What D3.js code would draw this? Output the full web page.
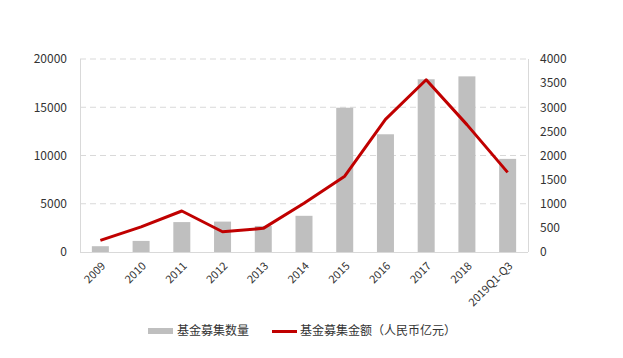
<!DOCTYPE html>
<html><head><meta charset="utf-8">
<script src="https://cdn.jsdelivr.net/npm/d3@7"></script>
<style>body{margin:0;background:#fff;}svg{display:block;}</style>
</head><body><svg id="c" width="623" height="358"></svg>
<script>
const categories = ["2009","2010","2011","2012","2013","2014","2015","2016","2017","2018","2019Q1-Q3"];
const fundCount = [600,1150,3100,3150,2700,3750,14950,12200,17900,18200,9650];
const fundAmount = [240,520,850,420,490,1010,1570,2750,3570,2640,1650];
const leftTicks = [0,5000,10000,15000,20000];
const rightTicks = [0,500,1000,1500,2000,2500,3000,3500,4000];
const seriesNames = ["基金募集数量","基金募集金额（人民币亿元）"];

const svg = d3.select("#c");
const font = "'Microsoft YaHei','Noto Sans CJK SC','Noto Sans',sans-serif";
const L=80,R=528,T=59,B=252;
const xc = d3.scaleBand().domain(categories).range([L,R]);
const yL = d3.scaleLinear().domain([0,20000]).range([B,T]);
const yR = d3.scaleLinear().domain([0,4000]).range([B,T]);

// gridlines
svg.append("g").selectAll("line").data(leftTicks.slice(1)).join("line")
  .attr("x1",L).attr("x2",R).attr("y1",d=>yL(d)).attr("y2",d=>yL(d))
  .attr("stroke","#d9d9d9").attr("stroke-width",1).attr("stroke-dasharray","6,4");

// bars
svg.append("g").selectAll("rect").data(fundCount).join("rect")
  .attr("x",(d,i)=>xc(categories[i])+xc.bandwidth()/2-8.5).attr("width",17)
  .attr("y",d=>yL(d)).attr("height",d=>B-yL(d)).attr("fill","#bfbfbf");

// axis lines
svg.append("line").attr("x1",L+0.5).attr("x2",L+0.5).attr("y1",T).attr("y2",B).attr("stroke","#d9d9d9");
svg.append("line").attr("x1",R+0.5).attr("x2",R+0.5).attr("y1",T).attr("y2",B).attr("stroke","#d9d9d9");
svg.append("line").attr("x1",L).attr("x2",R).attr("y1",B+0.5).attr("y2",B+0.5).attr("stroke","#d9d9d9");

// line
const line = d3.line().x((d,i)=>xc(categories[i])+xc.bandwidth()/2).y(d=>yR(d));
svg.append("path").datum(fundAmount).attr("d",line).attr("fill","none")
  .attr("stroke","#c00000").attr("stroke-width",3).attr("stroke-linejoin","round");

// left axis labels
const gl = svg.append("g").attr("transform",`translate(${L},0)`)
  .call(d3.axisLeft(yL).tickValues(leftTicks).tickSize(0).tickPadding(13).tickFormat(d3.format("d")));
gl.select(".domain").remove();
gl.selectAll("text").attr("font-family",font).attr("font-size",12).attr("fill","#333");

const gr = svg.append("g").attr("transform",`translate(${R},0)`)
  .call(d3.axisRight(yR).tickValues(rightTicks).tickSize(0).tickPadding(12).tickFormat(d3.format("d")));
gr.select(".domain").remove();
gr.selectAll("text").attr("font-family",font).attr("font-size",12).attr("fill","#333");

// x labels
const gx = svg.append("g").attr("transform",`translate(0,${B})`)
  .call(d3.axisBottom(xc).tickSize(0).tickPadding(0));
gx.select(".domain").remove();
gx.selectAll("text").attr("font-family",font).attr("font-size",11).attr("fill","#333")
  .attr("text-anchor","end").attr("dy","0.35em")
  .attr("transform","translate(3,12) rotate(-45)");

// legend
const lg = svg.append("g").attr("font-family",font).attr("font-size",12).attr("fill","#333");
lg.append("rect").attr("x",148).attr("y",328).attr("width",25).attr("height",6).attr("fill","#bfbfbf");
lg.append("text").attr("x",177).attr("y",331).attr("dy","0.35em").text(seriesNames[0]);
lg.append("line").attr("x1",272).attr("x2",297).attr("y1",331.5).attr("y2",331.5).attr("stroke","#c00000").attr("stroke-width",3);
lg.append("text").attr("x",300).attr("y",331).attr("dy","0.35em").text(seriesNames[1]);
</script></body></html>
